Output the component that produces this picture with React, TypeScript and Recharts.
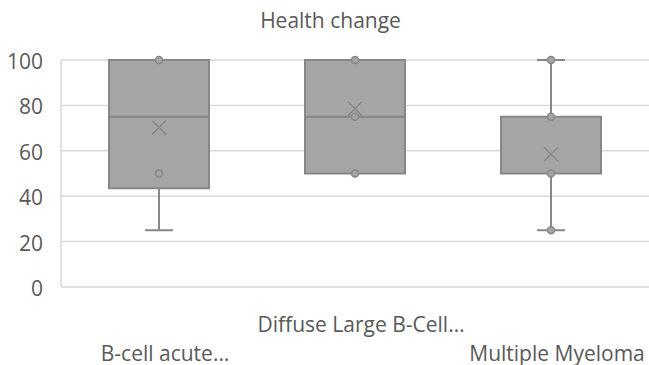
import { Bar, CartesianGrid, ComposedChart, Line, XAxis, YAxis } from 'recharts';

const categories = ['B-cell acute…', 'Diffuse Large B-Cell…', 'Multiple Myeloma'];
const minValues = [25, 50, 25];
const q1Values = [43.5, 50, 50];
const medianValues = [75, 75, 50];
const q3Values = [100, 100, 75];
const maxValues = [100, 100, 100];
const meanValues = [70.3, 78.5, 58.5];
const innerPoints = [
  [100, 50],
  [100, 75, 50],
  [100, 75, 50, 25]
];
const yTicks = [0, 20, 40, 60, 80, 100];

const data = categories.map((name, i) => ({
  name,
  base: minValues[i],
  lowW: q1Values[i] - minValues[i],
  lowBox: medianValues[i] - q1Values[i],
  upBox: q3Values[i] - medianValues[i],
  upW: maxValues[i] - q3Values[i],
  mean: meanValues[i],
  p0: innerPoints[i][0],
  p1: innerPoints[i][1],
  p2: innerPoints[i][2],
  p3: innerPoints[i][3]
}));

const FONT = '"Open Sans", sans-serif';
const TEXT = '#595959';
const EDGE = '#878787';
const FILL = '#a5a5a5';
const SIZE = 21;

const BoxShape = (p: any) => {
  if (!p.height || p.height < 0.5) return <g />;
  return <rect x={p.x} y={p.y} width={p.width} height={p.height} fill={FILL} stroke={EDGE} strokeWidth={2} />;
};

const whisker = (capAtTop: boolean) => (p: any) => {
  if (!p.height || p.height < 0.5) return <g />;
  const cx = p.x + p.width / 2;
  const capY = capAtTop ? p.y : p.y + p.height;
  return (
    <g>
      <line x1={cx} x2={cx} y1={p.y} y2={p.y + p.height} stroke={EDGE} strokeWidth={2} />
      <line x1={cx - 14} x2={cx + 14} y1={capY} y2={capY} stroke={EDGE} strokeWidth={2} />
    </g>
  );
};

const PointDot = (p: any) => {
  if (p.cx == null || p.cy == null || p.value == null || Number.isNaN(p.cy)) return <g key={p.index} />;
  return <circle key={p.index} cx={p.cx} cy={p.cy} r={3.5} fill={FILL} stroke={EDGE} strokeWidth={1.5} />;
};

const MeanDot = (p: any) => {
  if (p.cx == null || p.cy == null) return <g key={p.index} />;
  const s = 7;
  return (
    <g key={p.index} stroke={EDGE} strokeWidth={1.5}>
      <line x1={p.cx - s} y1={p.cy - s} x2={p.cx + s} y2={p.cy + s} />
      <line x1={p.cx - s} y1={p.cy + s} x2={p.cx + s} y2={p.cy - s} />
    </g>
  );
};

const CategoryTick = (p: any) => {
  const upper = p.index % 2 === 1;
  return (
    <text x={p.x} y={p.y} dx={6} dy={upper ? 37 : 65.5} textAnchor="middle" fill={TEXT} fontSize={SIZE} fontFamily={FONT}>
      {p.payload.value}
    </text>
  );
};

const ValueTick = (p: any) => (
  <text x={p.x} y={p.y} dy={9} textAnchor="end" fill={TEXT} fontSize={SIZE} fontFamily={FONT}>
    {p.payload.value}
  </text>
);

export default function App() {
  return (
    <div style={{ position: 'absolute', left: 0, top: 0, width: 649, height: 365, background: '#fff' }}>
      <div
        style={{
          position: 'absolute',
          left: 6,
          top: 10,
          width: 649,
          textAlign: 'center',
          fontFamily: FONT,
          fontSize: SIZE,
          lineHeight: '20px',
          color: TEXT
        }}
      >
        Health change
      </div>
      <ComposedChart width={649} height={365} data={data} margin={{ top: 60, right: 0, left: 0, bottom: 0 }}>
        <CartesianGrid stroke="#d9d9d9" strokeWidth={1.5} vertical={false} />
        <XAxis dataKey="name" height={78} axisLine={false} tickLine={false} interval={0} tick={<CategoryTick />} />
        <YAxis
          width={61}
          domain={[0, 100]}
          ticks={yTicks}
          axisLine={{ stroke: '#d9d9d9', strokeWidth: 1.5 }}
          tickLine={false}
          tickMargin={12}
          tick={<ValueTick />}
        />
        <Bar dataKey="base" stackId="box" barSize={100} fill="transparent" isAnimationActive={false} />
        <Bar dataKey="lowW" stackId="box" barSize={100} shape={whisker(false)} isAnimationActive={false} />
        <Bar dataKey="lowBox" stackId="box" barSize={100} shape={BoxShape} isAnimationActive={false} />
        <Bar dataKey="upBox" stackId="box" barSize={100} shape={BoxShape} isAnimationActive={false} />
        <Bar dataKey="upW" stackId="box" barSize={100} shape={whisker(true)} isAnimationActive={false} />
        {['p0', 'p1', 'p2', 'p3'].map((k) => (
          <Line key={k} dataKey={k} stroke="none" dot={PointDot} activeDot={false} isAnimationActive={false} />
        ))}
        <Line dataKey="mean" stroke="none" dot={MeanDot} activeDot={false} isAnimationActive={false} />
      </ComposedChart>
    </div>
  );
}
